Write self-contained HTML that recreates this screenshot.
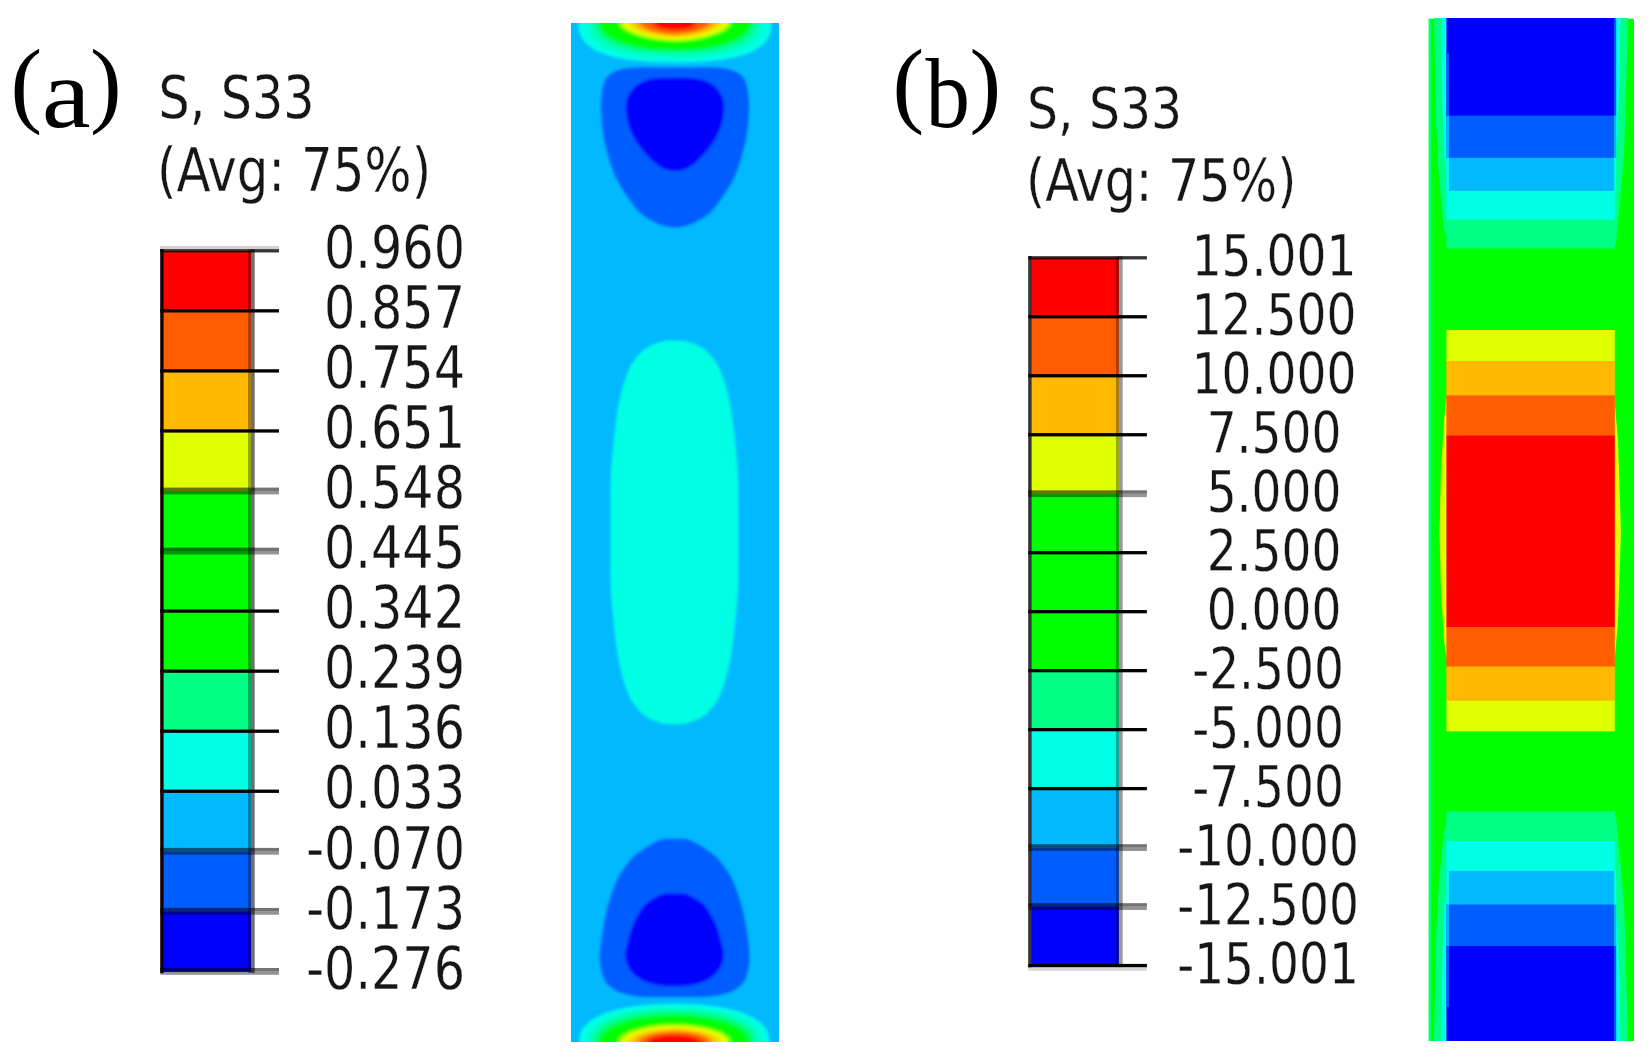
<!DOCTYPE html>
<html lang="en"><head><meta charset="utf-8"><title>S33 stress contours</title>
<style>
html,body{margin:0;padding:0;background:#fff;}
body{width:1651px;height:1061px;overflow:hidden;}
svg{display:block;}
.lab{font-family:"DejaVu Sans Condensed","DejaVu Sans","Liberation Sans",sans-serif;fill:#151515;stroke:#fff;stroke-width:0.3px;paint-order:fill stroke;}
.tag{font-family:"Liberation Serif","DejaVu Serif",serif;fill:#000;}
</style></head><body>
<svg width="1651" height="1061" viewBox="0 0 1651 1061">
<defs>
<filter id="soft" x="-5%" y="-5%" width="110%" height="110%"><feGaussianBlur stdDeviation="0.7"/></filter>
<filter id="soft2" x="-5%" y="-5%" width="110%" height="110%"><feGaussianBlur stdDeviation="1.5"/></filter>
<clipPath id="clipA"><rect x="571" y="23" width="208" height="1019"/></clipPath>
<clipPath id="clipB"><rect x="1428.5" y="18.5" width="205.5" height="1022.5"/></clipPath>
</defs>
<rect width="1651" height="1061" fill="#ffffff"/>

<g>
<rect x="162.6" y="250.80" width="88.40" height="60.55" fill="#ff0000"/>
<rect x="162.6" y="310.85" width="88.40" height="60.55" fill="#ff5d00"/>
<rect x="162.6" y="370.90" width="88.40" height="60.55" fill="#ffb900"/>
<rect x="162.6" y="430.95" width="88.40" height="60.55" fill="#e0ff00"/>
<rect x="162.6" y="491.00" width="88.40" height="60.55" fill="#00ff00"/>
<rect x="162.6" y="551.05" width="88.40" height="60.55" fill="#00ff00"/>
<rect x="162.6" y="611.10" width="88.40" height="60.55" fill="#00ff00"/>
<rect x="162.6" y="671.15" width="88.40" height="60.55" fill="#00ff85"/>
<rect x="162.6" y="731.20" width="88.40" height="60.55" fill="#00ffe4"/>
<rect x="162.6" y="791.25" width="88.40" height="60.55" fill="#00b9ff"/>
<rect x="162.6" y="851.30" width="88.40" height="60.55" fill="#005dff"/>
<rect x="162.6" y="911.35" width="88.40" height="60.55" fill="#0000ff"/>
<rect x="248" y="249.20" width="3" height="723.80" fill="#000" fill-opacity="0.33"/>
<rect x="251" y="249.20" width="3.70" height="723.80" fill="#000" fill-opacity="0.56"/>
<rect x="160.2" y="249.10" width="3.40" height="724.00" fill="#140000"/>
<rect x="160.2" y="249.15" width="118.80" height="3.3" fill="#050000" fill-opacity="0.8"/>
<rect x="160.2" y="309.20" width="118.80" height="3.3" fill="#050000" fill-opacity="1"/>
<rect x="160.2" y="369.25" width="118.80" height="3.3" fill="#050000" fill-opacity="1"/>
<rect x="160.2" y="429.30" width="118.80" height="3.3" fill="#050000" fill-opacity="1"/>
<rect x="160.2" y="487.60" width="118.80" height="3.4" fill="#000" fill-opacity="0.55"/>
<rect x="160.2" y="491.00" width="118.80" height="3.4" fill="#000" fill-opacity="0.42"/>
<rect x="160.2" y="547.65" width="118.80" height="3.4" fill="#000" fill-opacity="0.55"/>
<rect x="160.2" y="551.05" width="118.80" height="3.4" fill="#000" fill-opacity="0.42"/>
<rect x="160.2" y="609.45" width="118.80" height="3.3" fill="#050000" fill-opacity="1"/>
<rect x="160.2" y="669.50" width="118.80" height="3.3" fill="#050000" fill-opacity="1"/>
<rect x="160.2" y="729.55" width="118.80" height="3.3" fill="#050000" fill-opacity="1"/>
<rect x="160.2" y="789.60" width="118.80" height="3.3" fill="#050000" fill-opacity="1"/>
<rect x="160.2" y="847.90" width="118.80" height="3.4" fill="#000" fill-opacity="0.55"/>
<rect x="160.2" y="851.30" width="118.80" height="3.4" fill="#000" fill-opacity="0.42"/>
<rect x="160.2" y="907.95" width="118.80" height="3.4" fill="#000" fill-opacity="0.55"/>
<rect x="160.2" y="911.35" width="118.80" height="3.4" fill="#000" fill-opacity="0.42"/>
<rect x="160.2" y="968.00" width="118.80" height="3.4" fill="#000" fill-opacity="0.55"/>
<rect x="160.2" y="971.40" width="118.80" height="3.4" fill="#000" fill-opacity="0.42"/>
<rect x="160.2" y="246.00" width="118.80" height="3.2" fill="#000" fill-opacity="0.18"/>
</g>
<g filter="url(#soft)">
<text class="lab" transform="translate(465,268.00) scale(0.928,1)" font-size="59" text-anchor="end" >0.960</text>
<text class="lab" transform="translate(465,328.05) scale(0.928,1)" font-size="59" text-anchor="end" >0.857</text>
<text class="lab" transform="translate(465,388.10) scale(0.928,1)" font-size="59" text-anchor="end" >0.754</text>
<text class="lab" transform="translate(465,448.15) scale(0.928,1)" font-size="59" text-anchor="end" >0.651</text>
<text class="lab" transform="translate(465,508.20) scale(0.928,1)" font-size="59" text-anchor="end" >0.548</text>
<text class="lab" transform="translate(465,568.25) scale(0.928,1)" font-size="59" text-anchor="end" >0.445</text>
<text class="lab" transform="translate(465,628.30) scale(0.928,1)" font-size="59" text-anchor="end" >0.342</text>
<text class="lab" transform="translate(465,688.35) scale(0.928,1)" font-size="59" text-anchor="end" >0.239</text>
<text class="lab" transform="translate(465,748.40) scale(0.928,1)" font-size="59" text-anchor="end" >0.136</text>
<text class="lab" transform="translate(465,808.45) scale(0.928,1)" font-size="59" text-anchor="end" >0.033</text>
<text class="lab" transform="translate(465,868.50) scale(0.928,1)" font-size="59" text-anchor="end" >-0.070</text>
<text class="lab" transform="translate(465,928.55) scale(0.928,1)" font-size="59" text-anchor="end" >-0.173</text>
<text class="lab" transform="translate(465,988.60) scale(0.928,1)" font-size="59" text-anchor="end" >-0.276</text>
</g>
<g>
<rect x="1030.6" y="257.80" width="88.30" height="59.48" fill="#ff0000"/>
<rect x="1030.6" y="316.78" width="88.30" height="59.48" fill="#ff5d00"/>
<rect x="1030.6" y="375.76" width="88.30" height="59.48" fill="#ffb900"/>
<rect x="1030.6" y="434.74" width="88.30" height="59.48" fill="#e0ff00"/>
<rect x="1030.6" y="493.72" width="88.30" height="59.48" fill="#00ff00"/>
<rect x="1030.6" y="552.70" width="88.30" height="59.48" fill="#00ff00"/>
<rect x="1030.6" y="611.68" width="88.30" height="59.48" fill="#00ff00"/>
<rect x="1030.6" y="670.66" width="88.30" height="59.48" fill="#00ff85"/>
<rect x="1030.6" y="729.64" width="88.30" height="59.48" fill="#00ffe4"/>
<rect x="1030.6" y="788.62" width="88.30" height="59.48" fill="#00b9ff"/>
<rect x="1030.6" y="847.60" width="88.30" height="59.48" fill="#005dff"/>
<rect x="1030.6" y="906.58" width="88.30" height="59.48" fill="#0000ff"/>
<rect x="1115.9" y="256.20" width="3" height="710.96" fill="#000" fill-opacity="0.33"/>
<rect x="1118.9" y="256.20" width="3.80" height="710.96" fill="#000" fill-opacity="0.4"/>
<rect x="1028.2" y="256.10" width="3.40" height="711.16" fill="#333333"/>
<rect x="1028.2" y="256.15" width="118.70" height="3.3" fill="#050000" fill-opacity="0.8"/>
<rect x="1028.2" y="315.13" width="118.70" height="3.3" fill="#050000" fill-opacity="1"/>
<rect x="1028.2" y="374.11" width="118.70" height="3.3" fill="#050000" fill-opacity="1"/>
<rect x="1028.2" y="433.09" width="118.70" height="3.3" fill="#050000" fill-opacity="1"/>
<rect x="1028.2" y="490.32" width="118.70" height="3.4" fill="#000" fill-opacity="0.55"/>
<rect x="1028.2" y="493.72" width="118.70" height="3.4" fill="#000" fill-opacity="0.42"/>
<rect x="1028.2" y="551.05" width="118.70" height="3.3" fill="#050000" fill-opacity="1"/>
<rect x="1028.2" y="610.03" width="118.70" height="3.3" fill="#050000" fill-opacity="1"/>
<rect x="1028.2" y="669.01" width="118.70" height="3.3" fill="#050000" fill-opacity="1"/>
<rect x="1028.2" y="727.99" width="118.70" height="3.3" fill="#050000" fill-opacity="1"/>
<rect x="1028.2" y="786.97" width="118.70" height="3.3" fill="#050000" fill-opacity="1"/>
<rect x="1028.2" y="844.20" width="118.70" height="3.4" fill="#000" fill-opacity="0.55"/>
<rect x="1028.2" y="847.60" width="118.70" height="3.4" fill="#000" fill-opacity="0.42"/>
<rect x="1028.2" y="903.18" width="118.70" height="3.4" fill="#000" fill-opacity="0.55"/>
<rect x="1028.2" y="906.58" width="118.70" height="3.4" fill="#000" fill-opacity="0.42"/>
<rect x="1028.2" y="963.91" width="118.70" height="3.3" fill="#050000" fill-opacity="1"/>
<rect x="1028.2" y="967.21" width="118.70" height="3.6" fill="#000" fill-opacity="0.16"/>
</g>
<g filter="url(#soft)">
<text class="lab" transform="translate(1274,276.00) scale(0.918,1)" font-size="57" text-anchor="middle" >15.001</text>
<text class="lab" transform="translate(1274,334.98) scale(0.918,1)" font-size="57" text-anchor="middle" >12.500</text>
<text class="lab" transform="translate(1274,393.96) scale(0.918,1)" font-size="57" text-anchor="middle" >10.000</text>
<text class="lab" transform="translate(1274,452.94) scale(0.918,1)" font-size="57" text-anchor="middle" >7.500</text>
<text class="lab" transform="translate(1274,511.92) scale(0.918,1)" font-size="57" text-anchor="middle" >5.000</text>
<text class="lab" transform="translate(1274,570.90) scale(0.918,1)" font-size="57" text-anchor="middle" >2.500</text>
<text class="lab" transform="translate(1274,629.88) scale(0.918,1)" font-size="57" text-anchor="middle" >0.000</text>
<text class="lab" transform="translate(1268,688.86) scale(0.918,1)" font-size="57" text-anchor="middle" >-2.500</text>
<text class="lab" transform="translate(1268,747.84) scale(0.918,1)" font-size="57" text-anchor="middle" >-5.000</text>
<text class="lab" transform="translate(1268,806.82) scale(0.918,1)" font-size="57" text-anchor="middle" >-7.500</text>
<text class="lab" transform="translate(1268,865.80) scale(0.918,1)" font-size="57" text-anchor="middle" >-10.000</text>
<text class="lab" transform="translate(1268,924.78) scale(0.918,1)" font-size="57" text-anchor="middle" >-12.500</text>
<text class="lab" transform="translate(1268,983.76) scale(0.918,1)" font-size="57" text-anchor="middle" >-15.001</text>
</g>
<g filter="url(#soft)">
<text class="lab" transform="translate(158.5,117.5) scale(0.933,1)" font-size="58.5" text-anchor="start" >S, S33</text>
<text class="lab" transform="translate(157,191) scale(0.923,1)" font-size="60" text-anchor="start" >(Avg: 75%)</text>
<text class="lab" transform="translate(1027,128.5) scale(0.944,1)" font-size="57.5" text-anchor="start" >S, S33</text>
<text class="lab" transform="translate(1026,201) scale(0.926,1)" font-size="59" text-anchor="start" >(Avg: 75%)</text>
</g>
<text class="tag" transform="translate(10.5,114.5) scale(1.0,1)" font-size="95" text-anchor="start" >(</text>
<text class="tag" transform="translate(41.8,126.5) scale(1.1,1)" font-size="100" text-anchor="start" >a</text>
<text class="tag" transform="translate(90,114.5) scale(1.0,1)" font-size="95" text-anchor="start" >)</text>
<text class="tag" transform="translate(892.5,114.8) scale(1.0,1)" font-size="95" text-anchor="start" >(</text>
<text class="tag" transform="translate(925.5,126.5) scale(0.89,1)" font-size="100" text-anchor="start" >b</text>
<text class="tag" transform="translate(969.5,114.8) scale(1.0,1)" font-size="95" text-anchor="start" >)</text>
<g clip-path="url(#clipA)">
<rect x="571" y="23" width="208" height="1019" fill="#00b9ff"/>
<g filter="url(#soft2)">
<g>
<polygon fill="#00ffe4" points="771.6,23.2 771.3,29.0 770.4,33.1 769.0,36.8 767.0,40.1 764.4,43.1 761.3,46.0 757.6,48.5 753.4,50.9 748.6,53.1 743.3,55.0 737.5,56.7 731.1,58.2 724.2,59.5 716.6,60.5 708.5,61.3 699.5,61.9 689.3,62.3 675.0,62.4 660.7,62.3 650.5,61.9 641.5,61.3 633.4,60.5 625.8,59.5 618.9,58.2 612.5,56.7 606.7,55.0 601.4,53.1 596.6,50.9 592.4,48.5 588.7,46.0 585.6,43.1 583.0,40.1 581.0,36.8 579.6,33.1 578.7,29.0 578.4,23.2 578.7,17.4 579.6,13.3 581.0,9.6 583.0,6.3 585.6,3.3 588.7,0.4 592.4,-2.1 596.6,-4.5 601.4,-6.7 606.7,-8.6 612.5,-10.3 618.9,-11.8 625.8,-13.1 633.4,-14.1 641.5,-14.9 650.5,-15.5 660.7,-15.9 675.0,-16.0 689.3,-15.9 699.5,-15.5 708.5,-14.9 716.6,-14.1 724.2,-13.1 731.1,-11.8 737.5,-10.3 743.3,-8.6 748.6,-6.7 753.4,-4.5 757.6,-2.1 761.3,0.4 764.4,3.3 767.0,6.3 769.0,9.6 770.4,13.3 771.3,17.4"/>
<polygon fill="#00ffb8" points="761.0,23.2 760.7,27.8 759.9,31.3 758.6,34.5 756.7,37.4 754.4,40.0 751.5,42.5 748.1,44.8 744.2,46.9 739.8,48.8 735.0,50.6 729.6,52.1 723.8,53.4 717.6,54.6 710.8,55.5 703.5,56.3 695.6,56.8 686.7,57.1 675.0,57.2 663.3,57.1 654.4,56.8 646.5,56.3 639.2,55.5 632.4,54.6 626.2,53.4 620.4,52.1 615.0,50.6 610.2,48.8 605.8,46.9 601.9,44.8 598.5,42.5 595.6,40.0 593.3,37.4 591.4,34.5 590.1,31.3 589.3,27.8 589.0,23.2 589.3,18.6 590.1,15.1 591.4,11.9 593.3,9.0 595.6,6.4 598.5,3.9 601.9,1.6 605.8,-0.5 610.2,-2.4 615.0,-4.2 620.4,-5.7 626.2,-7.0 632.4,-8.2 639.2,-9.1 646.5,-9.9 654.4,-10.4 663.3,-10.7 675.0,-10.8 686.7,-10.7 695.6,-10.4 703.5,-9.9 710.8,-9.1 717.6,-8.2 723.8,-7.0 729.6,-5.7 735.0,-4.2 739.8,-2.4 744.2,-0.5 748.1,1.6 751.5,3.9 754.4,6.4 756.7,9.0 758.6,11.9 759.9,15.1 760.7,18.6"/>
<polygon fill="#00ff85" points="755.0,23.2 754.7,26.8 753.9,29.7 752.6,32.5 750.8,35.0 748.4,37.4 745.6,39.6 742.3,41.7 738.5,43.6 734.2,45.4 729.5,47.0 724.3,48.4 718.8,49.7 712.8,50.7 706.5,51.6 699.7,52.3 692.5,52.8 684.6,53.1 675.0,53.2 665.4,53.1 657.5,52.8 650.3,52.3 643.5,51.6 637.2,50.7 631.2,49.7 625.7,48.4 620.5,47.0 615.8,45.4 611.5,43.6 607.7,41.7 604.4,39.6 601.6,37.4 599.2,35.0 597.4,32.5 596.1,29.7 595.3,26.8 595.0,23.2 595.3,19.6 596.1,16.7 597.4,13.9 599.2,11.4 601.6,9.0 604.4,6.8 607.7,4.7 611.5,2.8 615.8,1.0 620.5,-0.6 625.7,-2.0 631.2,-3.3 637.2,-4.3 643.5,-5.2 650.3,-5.9 657.5,-6.4 665.4,-6.7 675.0,-6.8 684.6,-6.7 692.5,-6.4 699.7,-5.9 706.5,-5.2 712.8,-4.3 718.8,-3.3 724.3,-2.0 729.5,-0.6 734.2,1.0 738.5,2.8 742.3,4.7 745.6,6.8 748.4,9.0 750.8,11.4 752.6,13.9 753.9,16.7 754.7,19.6"/>
<polygon fill="#00ff40" points="751.5,23.2 751.2,25.9 750.4,28.4 749.0,30.9 747.1,33.2 744.7,35.4 741.7,37.6 738.3,39.6 734.4,41.4 730.0,43.2 725.2,44.8 720.1,46.2 714.5,47.4 708.7,48.5 702.5,49.4 696.1,50.1 689.4,50.6 682.5,50.9 675.0,51.0 667.5,50.9 660.6,50.6 653.9,50.1 647.5,49.4 641.3,48.5 635.5,47.4 629.9,46.2 624.8,44.8 620.0,43.2 615.6,41.4 611.7,39.6 608.3,37.6 605.3,35.4 602.9,33.2 601.0,30.9 599.6,28.4 598.8,25.9 598.5,23.2 598.8,20.5 599.6,18.0 601.0,15.5 602.9,13.2 605.3,11.0 608.3,8.8 611.7,6.8 615.6,5.0 620.0,3.2 624.8,1.6 629.9,0.2 635.5,-1.0 641.3,-2.1 647.5,-3.0 653.9,-3.7 660.6,-4.2 667.5,-4.5 675.0,-4.6 682.5,-4.5 689.4,-4.2 696.1,-3.7 702.5,-3.0 708.7,-2.1 714.5,-1.0 720.1,0.2 725.2,1.6 730.0,3.2 734.4,5.0 738.3,6.8 741.7,8.8 744.7,11.0 747.1,13.2 749.0,15.5 750.4,18.0 751.2,20.5"/>
<polygon fill="#00ff00" points="749.0,23.2 748.7,25.5 747.9,27.7 746.5,29.9 744.5,32.1 742.1,34.2 739.1,36.2 735.6,38.1 731.7,39.9 727.3,41.6 722.6,43.1 717.4,44.5 712.0,45.7 706.3,46.8 700.3,47.6 694.2,48.3 687.8,48.8 681.4,49.1 675.0,49.2 668.6,49.1 662.2,48.8 655.8,48.3 649.7,47.6 643.7,46.8 638.0,45.7 632.6,44.5 627.4,43.1 622.7,41.6 618.3,39.9 614.4,38.1 610.9,36.2 607.9,34.2 605.5,32.1 603.5,29.9 602.1,27.7 601.3,25.5 601.0,23.2 601.3,20.9 602.1,18.7 603.5,16.5 605.5,14.3 607.9,12.2 610.9,10.2 614.4,8.3 618.3,6.5 622.7,4.8 627.4,3.3 632.6,1.9 638.0,0.7 643.7,-0.4 649.7,-1.2 655.8,-1.9 662.2,-2.4 668.6,-2.7 675.0,-2.8 681.4,-2.7 687.8,-2.4 694.2,-1.9 700.3,-1.2 706.3,-0.4 712.0,0.7 717.4,1.9 722.6,3.3 727.3,4.8 731.7,6.5 735.6,8.3 739.1,10.2 742.1,12.2 744.5,14.3 746.5,16.5 747.9,18.7 748.7,20.9"/>
<polygon fill="#80ff00" points="731.5,23.2 731.3,24.4 730.5,25.8 729.4,27.3 727.7,28.7 725.6,30.2 723.2,31.6 720.3,33.0 717.0,34.3 713.4,35.6 709.6,36.7 705.5,37.8 701.2,38.7 696.7,39.5 692.2,40.2 687.6,40.7 683.1,41.1 678.8,41.3 675.0,41.4 671.2,41.3 666.9,41.1 662.4,40.7 657.8,40.2 653.3,39.5 648.8,38.7 644.5,37.8 640.4,36.7 636.6,35.6 633.0,34.3 629.7,33.0 626.8,31.6 624.4,30.2 622.3,28.7 620.6,27.3 619.5,25.8 618.7,24.4 618.5,23.2 618.7,22.0 619.5,20.6 620.6,19.1 622.3,17.7 624.4,16.2 626.8,14.8 629.7,13.4 633.0,12.1 636.6,10.8 640.4,9.7 644.5,8.6 648.8,7.7 653.3,6.9 657.8,6.2 662.4,5.7 666.9,5.3 671.2,5.1 675.0,5.0 678.8,5.1 683.1,5.3 687.6,5.7 692.2,6.2 696.7,6.9 701.2,7.7 705.5,8.6 709.6,9.7 713.4,10.8 717.0,12.1 720.3,13.4 723.2,14.8 725.6,16.2 727.7,17.7 729.4,19.1 730.5,20.6 731.3,22.0"/>
<polygon fill="#e0ff00" points="728.5,23.2 728.3,24.2 727.6,25.5 726.4,26.8 724.8,28.2 722.8,29.6 720.4,30.9 717.6,32.2 714.5,33.5 711.0,34.6 707.3,35.7 703.3,36.7 699.2,37.6 695.0,38.4 690.7,39.0 686.4,39.5 682.2,39.9 678.3,40.1 675.0,40.2 671.7,40.1 667.8,39.9 663.6,39.5 659.3,39.0 655.0,38.4 650.8,37.6 646.7,36.7 642.7,35.7 639.0,34.6 635.5,33.5 632.4,32.2 629.6,30.9 627.2,29.6 625.2,28.2 623.6,26.8 622.4,25.5 621.7,24.2 621.5,23.2 621.7,22.2 622.4,20.9 623.6,19.6 625.2,18.2 627.2,16.8 629.6,15.5 632.4,14.2 635.5,12.9 639.0,11.8 642.7,10.7 646.7,9.7 650.8,8.8 655.0,8.0 659.3,7.4 663.6,6.9 667.8,6.5 671.7,6.3 675.0,6.2 678.3,6.3 682.2,6.5 686.4,6.9 690.7,7.4 695.0,8.0 699.2,8.8 703.3,9.7 707.3,10.7 711.0,11.8 714.5,12.9 717.6,14.2 720.4,15.5 722.8,16.8 724.8,18.2 726.4,19.6 727.6,20.9 728.3,22.2"/>
<polygon fill="#f6dc00" points="721.5,23.2 721.3,24.1 720.7,25.2 719.7,26.3 718.3,27.5 716.6,28.7 714.5,29.8 712.0,30.9 709.3,32.0 706.3,33.0 703.1,34.0 699.6,34.8 696.1,35.6 692.4,36.2 688.6,36.8 684.9,37.2 681.3,37.5 677.9,37.7 675.0,37.8 672.1,37.7 668.7,37.5 665.1,37.2 661.4,36.8 657.6,36.2 653.9,35.6 650.4,34.8 646.9,34.0 643.7,33.0 640.7,32.0 638.0,30.9 635.5,29.8 633.4,28.7 631.7,27.5 630.3,26.3 629.3,25.2 628.7,24.1 628.5,23.2 628.7,22.3 629.3,21.2 630.3,20.1 631.7,18.9 633.4,17.7 635.5,16.6 638.0,15.5 640.7,14.4 643.7,13.4 646.9,12.4 650.4,11.6 653.9,10.8 657.6,10.2 661.4,9.6 665.1,9.2 668.7,8.9 672.1,8.7 675.0,8.6 677.9,8.7 681.3,8.9 684.9,9.2 688.6,9.6 692.4,10.2 696.1,10.8 699.6,11.6 703.1,12.4 706.3,13.4 709.3,14.4 712.0,15.5 714.5,16.6 716.6,17.7 718.3,18.9 719.7,20.1 720.7,21.2 721.3,22.3"/>
<polygon fill="#ffb900" points="716.5,23.2 716.3,24.0 715.8,25.0 714.9,26.0 713.7,27.0 712.1,28.1 710.2,29.1 708.0,30.1 705.6,31.0 702.9,31.9 700.0,32.8 697.0,33.5 693.8,34.2 690.5,34.8 687.2,35.3 683.9,35.7 680.6,36.0 677.6,36.1 675.0,36.2 672.4,36.1 669.4,36.0 666.1,35.7 662.8,35.3 659.5,34.8 656.2,34.2 653.0,33.5 650.0,32.8 647.1,31.9 644.4,31.0 642.0,30.1 639.8,29.1 637.9,28.1 636.3,27.0 635.1,26.0 634.2,25.0 633.7,24.0 633.5,23.2 633.7,22.4 634.2,21.4 635.1,20.4 636.3,19.4 637.9,18.3 639.8,17.3 642.0,16.3 644.4,15.4 647.1,14.5 650.0,13.6 653.0,12.9 656.2,12.2 659.5,11.6 662.8,11.1 666.1,10.7 669.4,10.4 672.4,10.3 675.0,10.2 677.6,10.3 680.6,10.4 683.9,10.7 687.2,11.1 690.5,11.6 693.8,12.2 697.0,12.9 700.0,13.6 702.9,14.5 705.6,15.4 708.0,16.3 710.2,17.3 712.1,18.3 713.7,19.4 714.9,20.4 715.8,21.4 716.3,22.4"/>
<polygon fill="#ff8b00" points="711.5,23.2 711.3,23.9 710.9,24.7 710.1,25.6 709.0,26.5 707.6,27.4 706.0,28.3 704.1,29.2 701.9,30.0 699.6,30.8 697.0,31.5 694.3,32.2 691.5,32.8 688.6,33.3 685.7,33.7 682.8,34.1 679.9,34.3 677.2,34.5 675.0,34.5 672.8,34.5 670.1,34.3 667.2,34.1 664.3,33.7 661.4,33.3 658.5,32.8 655.7,32.2 653.0,31.5 650.4,30.8 648.1,30.0 645.9,29.2 644.0,28.3 642.4,27.4 641.0,26.5 639.9,25.6 639.1,24.7 638.7,23.9 638.5,23.2 638.7,22.5 639.1,21.7 639.9,20.8 641.0,19.9 642.4,19.0 644.0,18.1 645.9,17.2 648.1,16.4 650.4,15.6 653.0,14.9 655.7,14.2 658.5,13.6 661.4,13.1 664.3,12.7 667.2,12.3 670.1,12.1 672.8,11.9 675.0,11.9 677.2,11.9 679.9,12.1 682.8,12.3 685.7,12.7 688.6,13.1 691.5,13.6 694.3,14.2 697.0,14.9 699.6,15.6 701.9,16.4 704.1,17.2 706.0,18.1 707.6,19.0 709.0,19.9 710.1,20.8 710.9,21.7 711.3,22.5"/>
<polygon fill="#ff5d00" points="708.0,23.2 707.9,23.8 707.4,24.6 706.7,25.3 705.7,26.1 704.5,26.9 703.0,27.7 701.3,28.5 699.3,29.2 697.2,29.9 694.9,30.6 692.5,31.2 689.9,31.7 687.3,32.1 684.7,32.5 682.0,32.8 679.5,33.0 677.0,33.2 675.0,33.2 673.0,33.2 670.5,33.0 668.0,32.8 665.3,32.5 662.7,32.1 660.1,31.7 657.5,31.2 655.1,30.6 652.8,29.9 650.7,29.2 648.7,28.5 647.0,27.7 645.5,26.9 644.3,26.1 643.3,25.3 642.6,24.6 642.1,23.8 642.0,23.2 642.1,22.6 642.6,21.8 643.3,21.1 644.3,20.3 645.5,19.5 647.0,18.7 648.7,17.9 650.7,17.2 652.8,16.5 655.1,15.8 657.5,15.2 660.1,14.7 662.7,14.3 665.3,13.9 668.0,13.6 670.5,13.4 673.0,13.2 675.0,13.2 677.0,13.2 679.5,13.4 682.0,13.6 684.7,13.9 687.3,14.3 689.9,14.7 692.5,15.2 694.9,15.8 697.2,16.5 699.3,17.2 701.3,17.9 703.0,18.7 704.5,19.5 705.7,20.3 706.7,21.1 707.4,21.8 707.9,22.6"/>
<polygon fill="#ff3000" points="697.5,23.2 697.4,23.8 697.2,24.4 696.7,25.0 696.1,25.6 695.4,26.2 694.5,26.7 693.4,27.2 692.2,27.7 690.9,28.1 689.5,28.6 687.9,28.9 686.2,29.3 684.5,29.5 682.7,29.8 680.8,30.0 678.9,30.1 677.0,30.2 675.0,30.2 673.0,30.2 671.1,30.1 669.2,30.0 667.3,29.8 665.5,29.5 663.8,29.3 662.1,28.9 660.5,28.6 659.1,28.1 657.8,27.7 656.6,27.2 655.5,26.7 654.6,26.2 653.9,25.6 653.3,25.0 652.8,24.4 652.6,23.8 652.5,23.2 652.6,22.6 652.8,22.0 653.3,21.4 653.9,20.8 654.6,20.2 655.5,19.7 656.6,19.2 657.8,18.7 659.1,18.3 660.5,17.8 662.1,17.5 663.8,17.1 665.5,16.9 667.3,16.6 669.2,16.4 671.1,16.3 673.0,16.2 675.0,16.2 677.0,16.2 678.9,16.3 680.8,16.4 682.7,16.6 684.5,16.9 686.2,17.1 687.9,17.5 689.5,17.8 690.9,18.3 692.2,18.7 693.4,19.2 694.5,19.7 695.4,20.2 696.1,20.8 696.7,21.4 697.2,22.0 697.4,22.6"/>
<polygon fill="#ff0000" points="693.5,23.2 693.4,23.8 693.2,24.3 692.9,24.8 692.5,25.3 691.9,25.8 691.2,26.2 690.4,26.6 689.5,26.9 688.5,27.3 687.4,27.6 686.2,27.9 684.9,28.1 683.5,28.3 682.0,28.5 680.4,28.6 678.8,28.7 677.0,28.8 675.0,28.8 673.0,28.8 671.2,28.7 669.6,28.6 668.0,28.5 666.5,28.3 665.1,28.1 663.8,27.9 662.6,27.6 661.5,27.3 660.5,26.9 659.6,26.6 658.8,26.2 658.1,25.8 657.5,25.3 657.1,24.8 656.8,24.3 656.6,23.8 656.5,23.2 656.6,22.6 656.8,22.1 657.1,21.6 657.5,21.1 658.1,20.6 658.8,20.2 659.6,19.8 660.5,19.5 661.5,19.1 662.6,18.8 663.8,18.5 665.1,18.3 666.5,18.1 668.0,17.9 669.6,17.8 671.2,17.7 673.0,17.6 675.0,17.6 677.0,17.6 678.8,17.7 680.4,17.8 682.0,17.9 683.5,18.1 684.9,18.3 686.2,18.5 687.4,18.8 688.5,19.1 689.5,19.5 690.4,19.8 691.2,20.2 691.9,20.6 692.5,21.1 692.9,21.6 693.2,22.1 693.4,22.6"/>
<path fill="#005dff" d="M675.0,67.6 C683.3,67.6 692.2,67.5 700.0,67.6 C707.8,67.7 716.2,67.5 722.0,68.2 C727.8,68.9 731.5,70.0 735.0,71.5 C738.5,73.0 741.0,74.8 742.9,77.0 C744.8,79.2 745.6,82.2 746.5,85.0 C747.4,87.8 747.7,90.2 748.1,94.0 C748.5,97.8 749.1,101.8 749.0,107.5 C748.9,113.2 748.3,121.7 747.6,127.9 C746.9,134.1 745.9,139.2 744.6,144.8 C743.3,150.5 741.9,156.1 740.0,161.8 C738.1,167.5 736.3,173.2 733.5,178.8 C730.7,184.5 727.1,190.0 723.2,195.7 C719.3,201.3 714.4,208.4 710.0,212.7 C705.6,216.9 701.0,219.0 697.0,221.2 C693.0,223.4 689.7,224.8 686.0,225.8 C682.3,226.8 678.7,227.3 675.0,227.3 C671.3,227.3 667.7,226.8 664.0,225.8 C660.3,224.8 657.0,223.4 653.0,221.2 C649.0,219.0 644.4,216.9 640.0,212.7 C635.6,208.4 630.7,201.3 626.8,195.7 C622.9,190.0 619.3,184.5 616.5,178.8 C613.7,173.2 611.9,167.5 610.0,161.8 C608.1,156.1 606.7,150.5 605.4,144.8 C604.1,139.2 603.1,134.1 602.4,127.9 C601.7,121.7 601.1,113.2 601.0,107.5 C600.9,101.8 601.5,97.8 601.9,94.0 C602.3,90.2 602.6,87.8 603.5,85.0 C604.4,82.2 605.2,79.2 607.1,77.0 C609.0,74.8 611.5,73.0 615.0,71.5 C618.5,70.0 622.2,68.9 628.0,68.2 C633.8,67.5 642.2,67.7 650.0,67.6 C657.8,67.5 666.7,67.6 675.0,67.6 Z"/>
<path fill="#0000ff" d="M675.0,77.8 C679.0,77.8 683.0,77.6 687.0,77.8 C691.0,78.0 695.5,78.3 699.0,79.0 C702.5,79.7 704.9,80.4 708.0,82.0 C711.1,83.6 714.9,86.0 717.4,88.8 C719.9,91.6 721.9,95.6 723.0,99.0 C724.1,102.4 724.4,104.8 724.2,109.0 C724.0,113.2 723.0,119.7 721.6,124.5 C720.2,129.3 718.5,133.5 716.0,138.0 C713.5,142.5 709.8,147.6 706.5,151.6 C703.2,155.6 699.7,159.0 696.5,161.8 C693.3,164.6 691.1,166.6 687.5,168.2 C683.9,169.8 679.2,171.3 675.0,171.3 C670.8,171.3 666.1,169.8 662.5,168.2 C658.9,166.6 656.7,164.6 653.5,161.8 C650.3,159.0 646.8,155.6 643.5,151.6 C640.2,147.6 636.5,142.5 634.0,138.0 C631.5,133.5 629.8,129.3 628.4,124.5 C627.0,119.7 626.0,113.2 625.8,109.0 C625.6,104.8 625.9,102.4 627.0,99.0 C628.1,95.6 630.1,91.6 632.6,88.8 C635.1,86.0 638.9,83.6 642.0,82.0 C645.1,80.4 647.5,79.7 651.0,79.0 C654.5,78.3 659.0,78.0 663.0,77.8 C667.0,77.6 671.0,77.8 675.0,77.8 Z"/>
</g>
<g>
<polygon fill="#00ffe4" points="769.5,1041.6 769.2,1046.1 768.2,1049.8 766.7,1053.3 764.5,1056.5 761.7,1059.5 758.3,1062.3 754.3,1064.9 749.8,1067.3 744.7,1069.6 739.1,1071.6 733.0,1073.4 726.4,1075.0 719.3,1076.3 711.8,1077.4 703.7,1078.3 695.1,1078.9 685.7,1079.3 674.3,1079.4 662.9,1079.3 653.5,1078.9 644.9,1078.3 636.8,1077.4 629.3,1076.3 622.2,1075.0 615.6,1073.4 609.5,1071.6 603.9,1069.6 598.8,1067.3 594.3,1064.9 590.3,1062.3 586.9,1059.5 584.1,1056.5 581.9,1053.3 580.4,1049.8 579.4,1046.1 579.1,1041.6 579.4,1037.1 580.4,1033.4 581.9,1029.9 584.1,1026.7 586.9,1023.7 590.3,1020.9 594.3,1018.3 598.8,1015.9 603.9,1013.6 609.5,1011.6 615.6,1009.8 622.2,1008.2 629.3,1006.9 636.8,1005.8 644.9,1004.9 653.5,1004.3 662.9,1003.9 674.3,1003.8 685.7,1003.9 695.1,1004.3 703.7,1004.9 711.8,1005.8 719.3,1006.9 726.4,1008.2 733.0,1009.8 739.1,1011.6 744.7,1013.6 749.8,1015.9 754.3,1018.3 758.3,1020.9 761.7,1023.7 764.5,1026.7 766.7,1029.9 768.2,1033.4 769.2,1037.1"/>
<polygon fill="#00ffb8" points="760.3,1041.6 760.0,1045.4 759.1,1048.7 757.7,1051.7 755.7,1054.5 753.1,1057.2 750.0,1059.7 746.3,1062.0 742.2,1064.2 737.5,1066.2 732.4,1068.0 726.8,1069.7 720.7,1071.1 714.3,1072.3 707.4,1073.3 700.2,1074.1 692.4,1074.6 684.1,1075.0 674.3,1075.1 664.5,1075.0 656.2,1074.6 648.4,1074.1 641.2,1073.3 634.3,1072.3 627.9,1071.1 621.8,1069.7 616.2,1068.0 611.1,1066.2 606.4,1064.2 602.3,1062.0 598.6,1059.7 595.5,1057.2 592.9,1054.5 590.9,1051.7 589.5,1048.7 588.6,1045.4 588.3,1041.6 588.6,1037.8 589.5,1034.5 590.9,1031.5 592.9,1028.7 595.5,1026.0 598.6,1023.5 602.3,1021.2 606.4,1019.0 611.1,1017.0 616.2,1015.2 621.8,1013.5 627.9,1012.1 634.3,1010.9 641.2,1009.9 648.4,1009.1 656.2,1008.6 664.5,1008.2 674.3,1008.1 684.1,1008.2 692.4,1008.6 700.2,1009.1 707.4,1009.9 714.3,1010.9 720.7,1012.1 726.8,1013.5 732.4,1015.2 737.5,1017.0 742.2,1019.0 746.3,1021.2 750.0,1023.5 753.1,1026.0 755.7,1028.7 757.7,1031.5 759.1,1034.5 760.0,1037.8"/>
<polygon fill="#00ff85" points="754.8,1041.6 754.5,1044.9 753.7,1047.8 752.3,1050.5 750.4,1053.1 747.9,1055.5 744.9,1057.8 741.4,1060.0 737.5,1062.0 733.0,1063.9 728.2,1065.5 722.9,1067.0 717.2,1068.4 711.1,1069.5 704.7,1070.4 697.9,1071.2 690.7,1071.7 683.1,1072.0 674.3,1072.1 665.5,1072.0 657.9,1071.7 650.7,1071.2 643.9,1070.4 637.5,1069.5 631.4,1068.4 625.7,1067.0 620.4,1065.5 615.6,1063.9 611.1,1062.0 607.2,1060.0 603.7,1057.8 600.7,1055.5 598.2,1053.1 596.3,1050.5 594.9,1047.8 594.1,1044.9 593.8,1041.6 594.1,1038.3 594.9,1035.4 596.3,1032.7 598.2,1030.1 600.7,1027.7 603.7,1025.4 607.2,1023.2 611.1,1021.2 615.6,1019.3 620.4,1017.7 625.7,1016.2 631.4,1014.8 637.5,1013.7 643.9,1012.8 650.7,1012.0 657.9,1011.5 665.5,1011.2 674.3,1011.1 683.1,1011.2 690.7,1011.5 697.9,1012.0 704.7,1012.8 711.1,1013.7 717.2,1014.8 722.9,1016.2 728.2,1017.7 733.0,1019.3 737.5,1021.2 741.4,1023.2 744.9,1025.4 747.9,1027.7 750.4,1030.1 752.3,1032.7 753.7,1035.4 754.5,1038.3"/>
<polygon fill="#00ff40" points="750.3,1041.6 750.0,1044.3 749.2,1046.8 747.8,1049.1 745.9,1051.4 743.5,1053.6 740.6,1055.7 737.1,1057.7 733.3,1059.5 728.9,1061.2 724.2,1062.8 719.1,1064.2 713.6,1065.4 707.8,1066.5 701.7,1067.3 695.3,1068.0 688.6,1068.5 681.7,1068.8 674.3,1068.9 666.9,1068.8 660.0,1068.5 653.3,1068.0 646.9,1067.3 640.8,1066.5 635.0,1065.4 629.5,1064.2 624.4,1062.8 619.7,1061.2 615.3,1059.5 611.5,1057.7 608.0,1055.7 605.1,1053.6 602.7,1051.4 600.8,1049.1 599.4,1046.8 598.6,1044.3 598.3,1041.6 598.6,1038.9 599.4,1036.4 600.8,1034.1 602.7,1031.8 605.1,1029.6 608.0,1027.5 611.5,1025.5 615.3,1023.7 619.7,1022.0 624.4,1020.4 629.5,1019.0 635.0,1017.8 640.8,1016.7 646.9,1015.9 653.3,1015.2 660.0,1014.7 666.9,1014.4 674.3,1014.3 681.7,1014.4 688.6,1014.7 695.3,1015.2 701.7,1015.9 707.8,1016.7 713.6,1017.8 719.1,1019.0 724.2,1020.4 728.9,1022.0 733.3,1023.7 737.1,1025.5 740.6,1027.5 743.5,1029.6 745.9,1031.8 747.8,1034.1 749.2,1036.4 750.0,1038.9"/>
<polygon fill="#00ff00" points="746.8,1041.6 746.5,1043.8 745.7,1046.0 744.3,1048.1 742.4,1050.2 740.0,1052.2 737.1,1054.2 733.7,1056.1 729.8,1057.8 725.6,1059.4 720.9,1060.9 715.9,1062.2 710.5,1063.4 704.9,1064.4 699.1,1065.3 693.1,1065.9 686.9,1066.4 680.6,1066.7 674.3,1066.8 668.0,1066.7 661.7,1066.4 655.5,1065.9 649.5,1065.3 643.7,1064.4 638.0,1063.4 632.7,1062.2 627.7,1060.9 623.0,1059.4 618.8,1057.8 614.9,1056.1 611.5,1054.2 608.6,1052.2 606.2,1050.2 604.3,1048.1 602.9,1046.0 602.1,1043.8 601.8,1041.6 602.1,1039.4 602.9,1037.2 604.3,1035.1 606.2,1033.0 608.6,1031.0 611.5,1029.0 614.9,1027.1 618.8,1025.4 623.0,1023.8 627.7,1022.3 632.7,1021.0 638.0,1019.8 643.7,1018.8 649.5,1017.9 655.5,1017.3 661.7,1016.8 668.0,1016.5 674.3,1016.4 680.6,1016.5 686.9,1016.8 693.1,1017.3 699.1,1017.9 704.9,1018.8 710.5,1019.8 715.9,1021.0 720.9,1022.3 725.6,1023.8 729.8,1025.4 733.7,1027.1 737.1,1029.0 740.0,1031.0 742.4,1033.0 744.3,1035.1 745.7,1037.2 746.5,1039.4"/>
<polygon fill="#80ff00" points="731.3,1041.6 731.1,1043.0 730.4,1044.4 729.3,1045.9 727.7,1047.4 725.7,1048.8 723.3,1050.2 720.5,1051.5 717.4,1052.8 713.9,1054.0 710.1,1055.0 706.1,1056.0 701.8,1056.9 697.3,1057.6 692.7,1058.3 688.0,1058.8 683.3,1059.1 678.7,1059.3 674.3,1059.4 669.9,1059.3 665.3,1059.1 660.6,1058.8 655.9,1058.3 651.3,1057.6 646.8,1056.9 642.5,1056.0 638.5,1055.0 634.7,1054.0 631.2,1052.8 628.1,1051.5 625.3,1050.2 622.9,1048.8 620.9,1047.4 619.3,1045.9 618.2,1044.4 617.5,1043.0 617.3,1041.6 617.5,1040.2 618.2,1038.8 619.3,1037.3 620.9,1035.8 622.9,1034.4 625.3,1033.0 628.1,1031.7 631.2,1030.4 634.7,1029.2 638.5,1028.2 642.5,1027.2 646.8,1026.3 651.3,1025.6 655.9,1024.9 660.6,1024.4 665.3,1024.1 669.9,1023.9 674.3,1023.8 678.7,1023.9 683.3,1024.1 688.0,1024.4 692.7,1024.9 697.3,1025.6 701.8,1026.3 706.1,1027.2 710.1,1028.2 713.9,1029.2 717.4,1030.4 720.5,1031.7 723.3,1033.0 725.7,1034.4 727.7,1035.8 729.3,1037.3 730.4,1038.8 731.1,1040.2"/>
<polygon fill="#e0ff00" points="728.0,1041.6 727.8,1042.8 727.1,1044.2 726.1,1045.5 724.6,1046.8 722.7,1048.1 720.5,1049.4 717.8,1050.6 714.9,1051.8 711.6,1052.8 708.0,1053.8 704.2,1054.7 700.2,1055.5 696.0,1056.2 691.7,1056.8 687.2,1057.2 682.8,1057.5 678.4,1057.7 674.3,1057.8 670.2,1057.7 665.8,1057.5 661.4,1057.2 656.9,1056.8 652.6,1056.2 648.4,1055.5 644.4,1054.7 640.6,1053.8 637.0,1052.8 633.7,1051.8 630.8,1050.6 628.1,1049.4 625.9,1048.1 624.0,1046.8 622.5,1045.5 621.5,1044.2 620.8,1042.8 620.6,1041.6 620.8,1040.4 621.5,1039.0 622.5,1037.7 624.0,1036.4 625.9,1035.1 628.1,1033.8 630.8,1032.6 633.7,1031.4 637.0,1030.4 640.6,1029.4 644.4,1028.5 648.4,1027.7 652.6,1027.0 656.9,1026.4 661.4,1026.0 665.8,1025.7 670.2,1025.5 674.3,1025.4 678.4,1025.5 682.8,1025.7 687.2,1026.0 691.7,1026.4 696.0,1027.0 700.2,1027.7 704.2,1028.5 708.0,1029.4 711.6,1030.4 714.9,1031.4 717.8,1032.6 720.5,1033.8 722.7,1035.1 724.6,1036.4 726.1,1037.7 727.1,1039.0 727.8,1040.4"/>
<polygon fill="#f6dc00" points="720.8,1041.6 720.6,1042.6 720.1,1043.8 719.1,1044.9 717.9,1046.0 716.2,1047.1 714.3,1048.2 712.0,1049.2 709.4,1050.1 706.6,1051.0 703.5,1051.9 700.2,1052.6 696.7,1053.3 693.1,1053.9 689.3,1054.3 685.5,1054.7 681.7,1055.0 677.9,1055.1 674.3,1055.2 670.7,1055.1 666.9,1055.0 663.1,1054.7 659.3,1054.3 655.5,1053.9 651.9,1053.3 648.4,1052.6 645.1,1051.9 642.0,1051.0 639.2,1050.1 636.6,1049.2 634.3,1048.2 632.4,1047.1 630.7,1046.0 629.5,1044.9 628.5,1043.8 628.0,1042.6 627.8,1041.6 628.0,1040.6 628.5,1039.4 629.5,1038.3 630.7,1037.2 632.4,1036.1 634.3,1035.0 636.6,1034.0 639.2,1033.1 642.0,1032.2 645.1,1031.3 648.4,1030.6 651.9,1029.9 655.5,1029.3 659.3,1028.9 663.1,1028.5 666.9,1028.2 670.7,1028.1 674.3,1028.0 677.9,1028.1 681.7,1028.2 685.5,1028.5 689.3,1028.9 693.1,1029.3 696.7,1029.9 700.2,1030.6 703.5,1031.3 706.6,1032.2 709.4,1033.1 712.0,1034.0 714.3,1035.0 716.2,1036.1 717.9,1037.2 719.1,1038.3 720.1,1039.4 720.6,1040.6"/>
<polygon fill="#ffb900" points="715.8,1041.6 715.6,1042.5 715.1,1043.5 714.3,1044.5 713.2,1045.5 711.7,1046.4 710.0,1047.4 707.9,1048.3 705.6,1049.1 703.1,1049.9 700.4,1050.7 697.4,1051.3 694.3,1051.9 691.1,1052.4 687.7,1052.8 684.3,1053.2 680.9,1053.4 677.5,1053.6 674.3,1053.6 671.1,1053.6 667.7,1053.4 664.3,1053.2 660.9,1052.8 657.5,1052.4 654.3,1051.9 651.2,1051.3 648.2,1050.7 645.5,1049.9 643.0,1049.1 640.7,1048.3 638.6,1047.4 636.9,1046.4 635.4,1045.5 634.3,1044.5 633.5,1043.5 633.0,1042.5 632.8,1041.6 633.0,1040.7 633.5,1039.7 634.3,1038.7 635.4,1037.7 636.9,1036.8 638.6,1035.8 640.7,1034.9 643.0,1034.1 645.5,1033.3 648.2,1032.5 651.2,1031.9 654.3,1031.3 657.5,1030.8 660.9,1030.4 664.3,1030.0 667.7,1029.8 671.1,1029.6 674.3,1029.6 677.5,1029.6 680.9,1029.8 684.3,1030.0 687.7,1030.4 691.1,1030.8 694.3,1031.3 697.4,1031.9 700.4,1032.5 703.1,1033.3 705.6,1034.1 707.9,1034.9 710.0,1035.8 711.7,1036.8 713.2,1037.7 714.3,1038.7 715.1,1039.7 715.6,1040.7"/>
<polygon fill="#ff8b00" points="710.8,1041.6 710.7,1042.4 710.2,1043.2 709.5,1044.1 708.5,1044.9 707.2,1045.8 705.7,1046.6 703.9,1047.3 701.9,1048.1 699.6,1048.8 697.2,1049.4 694.6,1049.9 691.9,1050.5 689.0,1050.9 686.1,1051.2 683.1,1051.5 680.1,1051.7 677.1,1051.9 674.3,1051.9 671.5,1051.9 668.5,1051.7 665.5,1051.5 662.5,1051.2 659.6,1050.9 656.7,1050.5 654.0,1049.9 651.4,1049.4 649.0,1048.8 646.7,1048.1 644.7,1047.3 642.9,1046.6 641.4,1045.8 640.1,1044.9 639.1,1044.1 638.4,1043.2 637.9,1042.4 637.8,1041.6 637.9,1040.8 638.4,1040.0 639.1,1039.1 640.1,1038.3 641.4,1037.4 642.9,1036.6 644.7,1035.9 646.7,1035.1 649.0,1034.4 651.4,1033.8 654.0,1033.3 656.7,1032.7 659.6,1032.3 662.5,1032.0 665.5,1031.7 668.5,1031.5 671.5,1031.3 674.3,1031.3 677.1,1031.3 680.1,1031.5 683.1,1031.7 686.1,1032.0 689.0,1032.3 691.9,1032.7 694.6,1033.3 697.2,1033.8 699.6,1034.4 701.9,1035.1 703.9,1035.9 705.7,1036.6 707.2,1037.4 708.5,1038.3 709.5,1039.1 710.2,1040.0 710.7,1040.8"/>
<polygon fill="#ff5d00" points="707.3,1041.6 707.2,1042.3 706.8,1043.1 706.1,1043.8 705.2,1044.6 704.1,1045.3 702.7,1046.0 701.0,1046.7 699.2,1047.4 697.2,1048.0 695.0,1048.5 692.7,1049.1 690.2,1049.5 687.6,1049.9 685.0,1050.2 682.3,1050.5 679.5,1050.7 676.8,1050.8 674.3,1050.8 671.8,1050.8 669.1,1050.7 666.3,1050.5 663.6,1050.2 661.0,1049.9 658.4,1049.5 655.9,1049.1 653.6,1048.5 651.4,1048.0 649.4,1047.4 647.6,1046.7 645.9,1046.0 644.5,1045.3 643.4,1044.6 642.5,1043.8 641.8,1043.1 641.4,1042.3 641.3,1041.6 641.4,1040.9 641.8,1040.1 642.5,1039.4 643.4,1038.6 644.5,1037.9 645.9,1037.2 647.6,1036.5 649.4,1035.8 651.4,1035.2 653.6,1034.7 655.9,1034.1 658.4,1033.7 661.0,1033.3 663.6,1033.0 666.3,1032.7 669.1,1032.5 671.8,1032.4 674.3,1032.4 676.8,1032.4 679.5,1032.5 682.3,1032.7 685.0,1033.0 687.6,1033.3 690.2,1033.7 692.7,1034.1 695.0,1034.7 697.2,1035.2 699.2,1035.8 701.0,1036.5 702.7,1037.2 704.1,1037.9 705.2,1038.6 706.1,1039.4 706.8,1040.1 707.2,1040.9"/>
<polygon fill="#ff3000" points="701.8,1041.6 701.7,1042.1 701.4,1042.7 700.8,1043.3 700.1,1043.9 699.1,1044.4 697.9,1045.0 696.6,1045.5 695.1,1046.0 693.4,1046.5 691.6,1046.9 689.6,1047.3 687.6,1047.6 685.4,1047.9 683.2,1048.2 680.9,1048.3 678.7,1048.5 676.4,1048.6 674.3,1048.6 672.2,1048.6 669.9,1048.5 667.7,1048.3 665.4,1048.2 663.2,1047.9 661.0,1047.6 659.0,1047.3 657.0,1046.9 655.2,1046.5 653.5,1046.0 652.0,1045.5 650.7,1045.0 649.5,1044.4 648.5,1043.9 647.8,1043.3 647.2,1042.7 646.9,1042.1 646.8,1041.6 646.9,1041.1 647.2,1040.5 647.8,1039.9 648.5,1039.3 649.5,1038.8 650.7,1038.2 652.0,1037.7 653.5,1037.2 655.2,1036.7 657.0,1036.3 659.0,1035.9 661.0,1035.6 663.2,1035.3 665.4,1035.0 667.7,1034.9 669.9,1034.7 672.2,1034.6 674.3,1034.6 676.4,1034.6 678.7,1034.7 680.9,1034.9 683.2,1035.0 685.4,1035.3 687.6,1035.6 689.6,1035.9 691.6,1036.3 693.4,1036.7 695.1,1037.2 696.6,1037.7 697.9,1038.2 699.1,1038.8 700.1,1039.3 700.8,1039.9 701.4,1040.5 701.7,1041.1"/>
<polygon fill="#ff0000" points="698.7,1041.6 698.6,1042.0 698.3,1042.5 697.8,1043.0 697.2,1043.4 696.3,1043.9 695.3,1044.3 694.1,1044.8 692.7,1045.2 691.2,1045.6 689.6,1045.9 687.9,1046.2 686.1,1046.5 684.2,1046.7 682.2,1046.9 680.2,1047.1 678.2,1047.2 676.2,1047.3 674.3,1047.3 672.4,1047.3 670.4,1047.2 668.4,1047.1 666.4,1046.9 664.4,1046.7 662.5,1046.5 660.7,1046.2 659.0,1045.9 657.4,1045.6 655.9,1045.2 654.5,1044.8 653.3,1044.3 652.3,1043.9 651.4,1043.4 650.8,1043.0 650.3,1042.5 650.0,1042.0 649.9,1041.6 650.0,1041.2 650.3,1040.7 650.8,1040.2 651.4,1039.8 652.3,1039.3 653.3,1038.9 654.5,1038.4 655.9,1038.0 657.4,1037.6 659.0,1037.3 660.7,1037.0 662.5,1036.7 664.4,1036.5 666.4,1036.3 668.4,1036.1 670.4,1036.0 672.4,1035.9 674.3,1035.9 676.2,1035.9 678.2,1036.0 680.2,1036.1 682.2,1036.3 684.2,1036.5 686.1,1036.7 687.9,1037.0 689.6,1037.3 691.2,1037.6 692.7,1038.0 694.1,1038.4 695.3,1038.9 696.3,1039.3 697.2,1039.8 697.8,1040.2 698.3,1040.7 698.6,1041.2"/>
<path fill="#005dff" d="M674.7,839.2 C678.9,839.2 683.2,838.6 687.4,839.6 C691.6,840.6 696.4,843.3 700.1,845.4 C703.8,847.5 706.7,849.8 709.7,852.0 C712.7,854.2 714.6,854.9 718.0,858.9 C721.4,862.9 727.1,870.2 730.3,875.9 C733.6,881.6 735.5,887.2 737.5,892.9 C739.5,898.5 741.2,904.1 742.6,909.8 C744.0,915.4 745.0,921.1 746.0,926.8 C747.0,932.5 747.9,938.7 748.5,943.8 C749.1,948.9 749.5,953.1 749.5,957.3 C749.5,961.5 749.1,965.2 748.2,969.2 C747.3,973.2 746.1,978.0 744.3,981.1 C742.5,984.2 740.3,985.9 737.5,987.9 C734.7,989.9 731.8,991.6 727.3,993.0 C722.8,994.4 716.6,995.8 710.3,996.4 C704.0,997.0 695.6,996.8 689.7,996.9 C683.8,997.0 679.7,996.9 674.7,996.9 C669.7,996.9 665.6,997.0 659.7,996.9 C653.8,996.8 645.4,997.0 639.1,996.4 C632.8,995.8 626.6,994.4 622.1,993.0 C617.6,991.6 614.7,989.9 611.9,987.9 C609.1,985.9 606.9,984.2 605.1,981.1 C603.3,978.0 602.1,973.2 601.2,969.2 C600.3,965.2 600.0,961.5 599.9,957.3 C599.9,953.1 600.3,948.9 600.9,943.8 C601.5,938.7 602.4,932.5 603.4,926.8 C604.4,921.1 605.4,915.4 606.8,909.8 C608.2,904.1 609.9,898.5 611.9,892.9 C614.0,887.2 615.9,881.6 619.1,875.9 C622.4,870.2 628.0,862.9 631.4,858.9 C634.8,854.9 636.7,854.2 639.7,852.0 C642.7,849.8 645.6,847.5 649.3,845.4 C653.0,843.3 657.8,840.6 662.0,839.6 C666.2,838.6 670.5,839.2 674.7,839.2 Z"/>
<path fill="#0000ff" d="M674.5,893.5 C678.2,893.5 681.3,892.5 685.5,893.8 C689.7,895.1 696.1,898.6 699.9,901.3 C703.6,904.0 705.2,905.5 708.0,909.8 C710.8,914.0 714.6,921.1 716.9,926.8 C719.2,932.5 720.7,939.3 721.8,943.8 C722.9,948.3 723.7,950.6 723.7,954.0 C723.7,957.4 723.1,961.0 722.0,964.1 C720.9,967.2 719.2,970.1 716.9,972.6 C714.6,975.1 711.5,977.6 708.4,979.4 C705.3,981.2 701.9,982.5 698.3,983.6 C694.6,984.7 690.5,985.5 686.5,986.0 C682.5,986.5 678.5,986.3 674.5,986.3 C670.5,986.3 666.5,986.5 662.5,986.0 C658.5,985.5 654.4,984.7 650.7,983.6 C647.1,982.5 643.7,981.2 640.6,979.4 C637.5,977.6 634.4,975.1 632.1,972.6 C629.8,970.1 628.1,967.2 627.0,964.1 C625.9,961.0 625.3,957.4 625.3,954.0 C625.3,950.6 626.1,948.3 627.2,943.8 C628.3,939.3 629.8,932.5 632.1,926.8 C634.4,921.1 638.2,914.0 641.0,909.8 C643.8,905.5 645.4,904.0 649.1,901.3 C652.9,898.6 659.3,895.1 663.5,893.8 C667.7,892.5 670.8,893.5 674.5,893.5 Z"/>
</g>
<path fill="#00ffe4" d="M674.4,340.3 C677.7,340.3 681.1,340.4 684.4,341.0 C687.7,341.6 691.6,343.0 694.4,344.0 C697.2,345.0 699.0,345.9 701.2,347.2 C703.4,348.5 705.4,349.9 707.6,352.0 C709.8,354.1 712.5,357.3 714.4,360.0 C716.3,362.7 717.5,364.0 719.3,368.0 C721.1,372.0 723.6,378.7 725.3,384.0 C727.0,389.3 728.2,394.7 729.3,400.0 C730.4,405.3 731.0,408.0 732.1,416.0 C733.2,424.0 734.8,437.3 735.8,448.0 C736.8,458.7 737.7,465.9 738.1,480.0 C738.5,494.1 738.4,514.9 738.4,532.4 C738.4,549.9 738.5,570.7 738.1,584.8 C737.7,598.9 736.8,606.1 735.8,616.8 C734.8,627.5 733.2,640.8 732.1,648.8 C731.0,656.8 730.4,659.5 729.3,664.8 C728.2,670.1 727.0,675.5 725.3,680.8 C723.6,686.1 721.1,692.8 719.3,696.8 C717.5,700.8 716.3,702.1 714.4,704.8 C712.5,707.5 709.8,710.7 707.6,712.8 C705.4,714.9 703.4,716.3 701.2,717.6 C699.0,718.9 697.2,719.8 694.4,720.8 C691.6,721.8 687.7,723.2 684.4,723.8 C681.1,724.4 677.7,724.5 674.4,724.5 C671.1,724.5 667.7,724.4 664.4,723.8 C661.1,723.2 657.2,721.8 654.4,720.8 C651.6,719.8 649.8,718.9 647.6,717.6 C645.4,716.3 643.4,714.9 641.2,712.8 C639.0,710.7 636.3,707.5 634.4,704.8 C632.5,702.1 631.3,700.8 629.5,696.8 C627.7,692.8 625.2,686.1 623.5,680.8 C621.8,675.5 620.6,670.1 619.5,664.8 C618.4,659.5 617.8,656.8 616.7,648.8 C615.6,640.8 614.0,627.5 613.0,616.8 C612.0,606.1 611.1,598.9 610.7,584.8 C610.3,570.7 610.4,549.9 610.4,532.4 C610.4,514.9 610.3,494.1 610.7,480.0 C611.1,465.9 612.0,458.7 613.0,448.0 C614.0,437.3 615.6,424.0 616.7,416.0 C617.8,408.0 618.4,405.3 619.5,400.0 C620.6,394.7 621.8,389.3 623.5,384.0 C625.2,378.7 627.7,372.0 629.5,368.0 C631.3,364.0 632.5,362.7 634.4,360.0 C636.3,357.3 639.0,354.1 641.2,352.0 C643.4,349.9 645.4,348.5 647.6,347.2 C649.8,345.9 651.6,345.0 654.4,344.0 C657.2,343.0 661.1,341.6 664.4,341.0 C667.7,340.4 671.1,340.3 674.4,340.3 Z"/>
</g></g>
<g clip-path="url(#clipB)">
<rect x="1428.5" y="18.5" width="205.5" height="1022.5" fill="#00ff00"/>
<rect x="1428.5" y="18.5" width="2.4" height="1022.5" fill="#00ff85"/>
<g filter="url(#soft)">
<g>
<polygon fill="#00ff85" points="1434,10 1450,10 1450,247 1444.5,231 1441.5,206 1437.5,157 1435.5,108"/>
<polygon fill="#00ffe4" points="1440.8,10 1450,10 1450,186 1447,181 1444.5,157 1442.5,108"/>
<polygon fill="#00ff85" points="1612,10 1628.3,10 1625.6,108 1624,157 1619.5,206 1616,243 1612,250"/>
<polygon fill="#00ffe4" points="1612,10 1620.8,10 1619.5,80 1617.5,130 1614.5,160 1612,165"/>
</g>
<g transform="translate(0,1060) scale(1,-1)">
<polygon fill="#00ff85" points="1434,10 1450,10 1450,247 1444.5,231 1441.5,206 1437.5,157 1435.5,108"/>
<polygon fill="#00ffe4" points="1440.8,10 1450,10 1450,186 1447,181 1444.5,157 1442.5,108"/>
<polygon fill="#00ff85" points="1612,10 1628.3,10 1625.6,108 1624,157 1619.5,206 1616,243 1612,250"/>
<polygon fill="#00ffe4" points="1612,10 1620.8,10 1619.5,80 1617.5,130 1614.5,160 1612,165"/>
</g>
<polygon fill="#e0ff00" points="1448,383 1444,420 1441,470 1439.5,531 1441,592 1444,640 1448,668"/>
<polygon fill="#e0ff00" points="1614,395 1618,440 1621,531 1618,622 1614,667"/>
</g>
<g filter="url(#soft)">
<rect x="1446.4" y="6.5" width="168.40" height="109.50" fill="#0000ff"/>
<rect x="1446.4" y="115.6" width="168.40" height="42.60" fill="#005dff"/>
<rect x="1446.4" y="157.8" width="168.40" height="33.60" fill="#00b9ff"/>
<rect x="1446.4" y="191" width="168.40" height="29.00" fill="#00ffe4"/>
<rect x="1446.4" y="219.6" width="168.40" height="28.80" fill="#00ff85"/>
<rect x="1446.4" y="330" width="168.40" height="31.40" fill="#e0ff00"/>
<rect x="1446.4" y="361" width="168.40" height="34.80" fill="#ffb900"/>
<rect x="1446.4" y="395.4" width="168.40" height="40.50" fill="#ff5d00"/>
<rect x="1446.4" y="435.5" width="168.40" height="191.90" fill="#ff0000"/>
<rect x="1446.4" y="627" width="168.40" height="39.90" fill="#ff5d00"/>
<rect x="1446.4" y="666.5" width="168.40" height="34.70" fill="#ffb900"/>
<rect x="1446.4" y="700.8" width="168.40" height="30.60" fill="#e0ff00"/>
<rect x="1446.4" y="811.4" width="168.40" height="30.00" fill="#00ff85"/>
<rect x="1446.4" y="841" width="168.40" height="30.40" fill="#00ffe4"/>
<rect x="1446.4" y="871" width="168.40" height="33.90" fill="#00b9ff"/>
<rect x="1446.4" y="904.5" width="168.40" height="41.90" fill="#005dff"/>
<rect x="1446.4" y="946" width="168.40" height="107.40" fill="#0000ff"/>
</g>
<rect x="1446.4" y="53" width="2.5" height="62.60" fill="#005dff"/>
<rect x="1614.2" y="18.5" width="2" height="97.10" fill="#005dff"/>
<rect x="1446.4" y="115.6" width="2.5" height="42.20" fill="#00b9ff"/>
<rect x="1614.2" y="115.6" width="2" height="42.20" fill="#00b9ff"/>
<rect x="1446.4" y="157.8" width="2.5" height="33.20" fill="#00ffe4"/>
<rect x="1614.2" y="157.8" width="2" height="33.20" fill="#00ffe4"/>
<rect x="1446.4" y="871" width="2.5" height="33.50" fill="#00ffe4"/>
<rect x="1614.2" y="871" width="2" height="33.50" fill="#00ffe4"/>
<rect x="1446.4" y="904.5" width="2.5" height="41.50" fill="#00b9ff"/>
<rect x="1614.2" y="904.5" width="2" height="41.50" fill="#00b9ff"/>
<rect x="1446.4" y="946" width="2.5" height="61.00" fill="#005dff"/>
<rect x="1614.2" y="946" width="2" height="95.00" fill="#005dff"/>
</g>
</svg>
</body></html>
